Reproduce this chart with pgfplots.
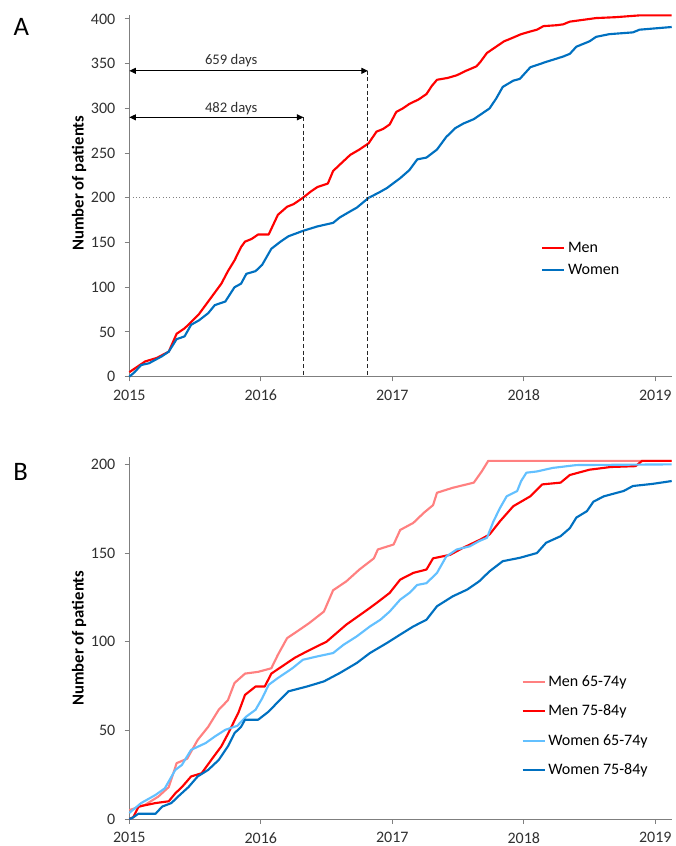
\documentclass[border=0pt]{standalone}
\usepackage{fontspec}
\setmainfont{Carlito}
\usepackage{pgfplots}
\pgfplotsset{compat=1.18}
\usetikzlibrary{arrows.meta}
\definecolor{menred}{HTML}{FF0000}
\definecolor{womenblue}{HTML}{0070C0}
\definecolor{lightred}{HTML}{FF8080}
\definecolor{lightblue}{HTML}{63C0FF}
\definecolor{axisgray}{HTML}{7F7F7F}
\definecolor{ticktext}{HTML}{303030}
\pgfplotsset{
  common/.style={
    scale only axis,
    width=406.8pt, height=271.3pt,
    xmin=2015, xmax=2019.125,
    axis x line*=bottom, axis y line*=left,
    axis line style={draw=axisgray, line width=0.7pt},
    tick style={draw=axisgray, line width=0.7pt},
    tick align=outside,
    major tick length=3.5pt,
    xtick={2015,2016,2017,2018,2019},
    xticklabels={2015,2016,2017,2018,2019},
    /pgf/number format/assume math mode=true,
    tick label style={font=\fontsize{12}{14}\selectfont, text=ticktext},
    xticklabel style={yshift=-3pt},
    yticklabel style={xshift=-3.5pt},
    ylabel={\textbf{Number of patients}},
    clip=false,
    legend cell align=left,
    legend image code/.code={\draw[#1] (0pt,0pt) -- (16.5pt,0pt);},
    every axis plot/.append style={line width=1.6pt, line join=round},
  }
}
\begin{document}
\begin{tikzpicture}
\path[use as bounding box] (0pt,0pt) rectangle (506.25pt,-634.5pt);
\node[font=\fontsize{20}{24}\selectfont] at (16pt,-20.5pt) {A};
\node[font=\fontsize{20}{24}\selectfont] at (15.5pt,-354pt) {B};
% ---------------- Panel A ----------------
\begin{axis}[common,
  at={(96.98pt,-282.5pt)}, anchor=south west,
  ymin=0, ymax=404.5,
  ytick={0,50,...,400},
  every axis y label/.style={at={(axis description cs:-0.0927,0.535)}, rotate=90, anchor=center, font=\fontsize{12.5}{14}\selectfont},
  legend style={draw=none, fill=none, at={(axis cs:2018.10,157)}, anchor=north west,
    font=\fontsize{12}{14}\selectfont, row sep=3.5pt},
]
\addplot[menred] coordinates {
(2015.00,5) (2015.05,10) (2015.12,17) (2015.21,21) (2015.30,28) (2015.36,48) (2015.42,54)
(2015.47,61) (2015.53,70) (2015.59,82) (2015.65,94) (2015.70,104) (2015.75,118) (2015.80,130)
(2015.85,145) (2015.88,151) (2015.93,154) (2015.98,159) (2016.06,159) (2016.13,181) (2016.20,190)
(2016.25,193) (2016.32,200) (2016.38,207) (2016.43,212) (2016.51,216) (2016.55,230) (2016.60,237)
(2016.68,248) (2016.75,254) (2016.82,261) (2016.88,274) (2016.93,277) (2016.98,282) (2017.03,296)
(2017.08,300) (2017.13,305) (2017.20,310) (2017.26,316) (2017.30,325) (2017.34,332) (2017.42,334)
(2017.49,337) (2017.56,342) (2017.64,347) (2017.67,352) (2017.72,362) (2017.78,368) (2017.85,375)
(2017.90,378) (2017.98,383) (2018.05,386) (2018.10,388) (2018.15,392) (2018.25,393) (2018.30,394)
(2018.35,397) (2018.45,399) (2018.55,401) (2018.70,402) (2018.88,404) (2019.125,404)
};
\addlegendentry{Men}
\addplot[womenblue] coordinates {
(2015.00,0) (2015.04,5) (2015.09,13) (2015.15,15) (2015.20,19) (2015.25,23) (2015.30,28)
(2015.36,42) (2015.42,45) (2015.47,58) (2015.53,63) (2015.60,71) (2015.65,80) (2015.73,84)
(2015.80,100) (2015.85,104) (2015.89,115) (2015.96,118) (2016.01,125) (2016.08,143) (2016.15,151)
(2016.21,157) (2016.32,163) (2016.43,168) (2016.55,172) (2016.60,178) (2016.67,184) (2016.73,189)
(2016.82,200) (2016.90,206) (2016.96,211) (2017.06,222) (2017.13,231) (2017.19,243) (2017.26,245)
(2017.34,254) (2017.41,268) (2017.48,278) (2017.54,283) (2017.62,288) (2017.67,293) (2017.74,300)
(2017.79,311) (2017.84,324) (2017.92,331) (2017.97,333) (2018.05,346) (2018.17,352) (2018.30,358)
(2018.35,361) (2018.40,369) (2018.50,375) (2018.55,380) (2018.65,383) (2018.83,385) (2018.88,388)
(2019.125,391)
};
\addlegendentry{Women}
\addplot[gray, line width=0.5pt, dotted, forget plot] coordinates {(2015,200) (2019.125,200)};
\addplot[black!85, line width=0.8pt, dash pattern=on 3pt off 2pt, forget plot] coordinates {(2016.325,290) (2016.325,0)};
\addplot[black!85, line width=0.8pt, dash pattern=on 3pt off 2pt, forget plot] coordinates {(2016.815,342) (2016.815,0)};
\addplot[black, line width=0.8pt, {Triangle[length=5pt,width=4.5pt]}-{Triangle[length=5pt,width=4.5pt]}, forget plot] coordinates {(2015,290) (2016.325,290)};
\addplot[black, line width=0.8pt, {Triangle[length=5pt,width=4.5pt]}-{Triangle[length=5pt,width=4.5pt]}, forget plot] coordinates {(2015,342) (2016.815,342)};
\node[font=\fontsize{11}{13}\selectfont, text=ticktext] at (axis cs:2015.775,353) {659 days};
\node[font=\fontsize{11}{13}\selectfont, text=ticktext] at (axis cs:2015.775,300) {482 days};
\end{axis}
% ---------------- Panel B ----------------
\begin{axis}[common,
  at={(96.98pt,-614.25pt)}, anchor=south west,
  ymin=0, ymax=204,
  ytick={0,50,...,200},
  every axis y label/.style={at={(axis description cs:-0.0927,0.5)}, rotate=90, anchor=center, font=\fontsize{12.5}{14}\selectfont},
  legend style={draw=none, fill=none, at={(axis cs:2017.95,84)}, anchor=north west,
    font=\fontsize{12}{14}\selectfont, row sep=8.3pt},
]
\addplot[lightred] coordinates {
(2015.00,5) (2015.12,8) (2015.22,12.6) (2015.30,18) (2015.36,31.5) (2015.44,34) (2015.52,44.6)
(2015.60,52) (2015.68,61.6) (2015.75,67) (2015.80,76.7) (2015.88,82) (2015.98,83) (2016.08,85)
(2016.13,92.6) (2016.20,102) (2016.30,107) (2016.37,110.6) (2016.48,117) (2016.55,129) (2016.65,134)
(2016.75,140.7) (2016.86,147) (2016.89,152) (2017.01,154.8) (2017.06,163) (2017.16,167) (2017.24,172.7)
(2017.31,177) (2017.34,184) (2017.46,186.8) (2017.62,189.7) (2017.68,196) (2017.73,202) (2019.125,202)
};
\addlegendentry{Men 65-74y}
\addplot[menred] coordinates {
(2015.00,0) (2015.03,1) (2015.07,7) (2015.20,9) (2015.30,10) (2015.35,14.5) (2015.40,18)
(2015.47,24) (2015.55,25.8) (2015.63,34) (2015.70,41) (2015.75,48) (2015.83,60) (2015.88,70)
(2015.96,74.7) (2016.03,74.7) (2016.08,82) (2016.18,87) (2016.26,91) (2016.35,94.5) (2016.50,100)
(2016.65,109.6) (2016.81,118) (2016.88,121.8) (2016.98,127.5) (2017.06,135) (2017.16,138.8) (2017.26,140.7)
(2017.31,147) (2017.44,149) (2017.54,153) (2017.67,157.6) (2017.74,160.5) (2017.82,168) (2017.92,176.4)
(2018.05,182) (2018.14,188.7) (2018.28,189.7) (2018.35,194) (2018.50,197) (2018.66,198.5) (2018.85,199)
(2018.90,202) (2019.125,202)
};
\addlegendentry{Men 75-84y}
\addplot[lightblue] coordinates {
(2015.00,3.4) (2015.09,9) (2015.20,13.6) (2015.27,17.3) (2015.35,27.7) (2015.40,30.5) (2015.47,39)
(2015.58,42.8) (2015.65,46.5) (2015.73,50.3) (2015.82,52.5) (2015.89,57.8) (2015.96,61.6) (2016.01,68)
(2016.06,75.7) (2016.13,79.5) (2016.24,85) (2016.32,89.8) (2016.43,91.7) (2016.55,93.6) (2016.63,98.3)
(2016.73,103) (2016.83,108.6) (2016.91,112.4) (2016.98,117) (2017.06,123.7) (2017.13,127.5) (2017.19,132)
(2017.26,133) (2017.34,138.8) (2017.41,148) (2017.49,152) (2017.59,153.8) (2017.66,156.7) (2017.72,158.6)
(2017.77,168) (2017.82,175.5) (2017.87,182) (2017.95,185) (2017.98,190.6) (2018.02,195.3) (2018.10,196)
(2018.22,198) (2018.40,199.6) (2019.125,200)
};
\addlegendentry{Women 65-74y}
\addplot[womenblue] coordinates {
(2015.00,0) (2015.02,0.5) (2015.07,3) (2015.20,3) (2015.25,7) (2015.32,9) (2015.37,12.6)
(2015.45,18) (2015.52,24) (2015.60,27.7) (2015.68,33.3) (2015.75,41) (2015.80,48.4) (2015.85,52)
(2015.88,56) (2015.98,56) (2016.06,60.6) (2016.13,66) (2016.21,72) (2016.35,74.7) (2016.48,77.6)
(2016.60,82.3) (2016.73,88) (2016.83,93.6) (2016.96,99.3) (2017.06,104) (2017.16,108.6) (2017.26,112.4)
(2017.34,120) (2017.46,125.6) (2017.57,129.4) (2017.66,134) (2017.74,139.7) (2017.84,145.4) (2017.97,147.3)
(2018.10,150) (2018.17,155.8) (2018.28,159.5) (2018.35,164) (2018.40,170) (2018.48,173.6) (2018.53,179)
(2018.61,182) (2018.76,185) (2018.83,187.8) (2018.98,189) (2019.125,190.6)
};
\addlegendentry{Women 75-84y}
\end{axis}
\end{tikzpicture}
\end{document}
